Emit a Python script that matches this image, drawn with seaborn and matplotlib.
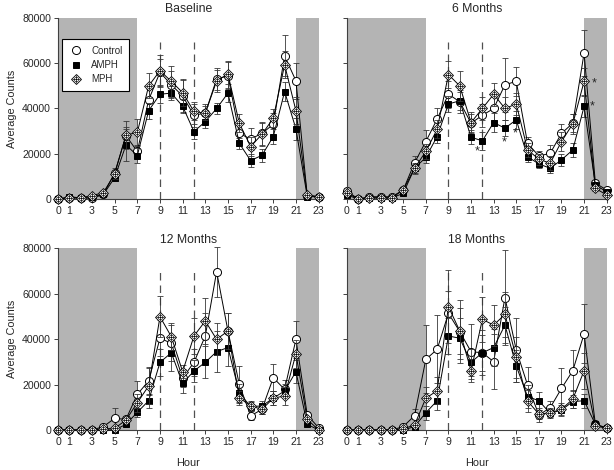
import numpy as np
import pandas as pd
import matplotlib
matplotlib.use("Agg")
import matplotlib.pyplot as plt
import seaborn as sns
from matplotlib.lines import Line2D

# ---------------- data ----------------
hours = list(range(24))
panel_titles = ["Baseline", "6 Months", "12 Months", "18 Months"]
groups = ["Control", "AMPH", "MPH"]
xtick_values = [0, 1, 3, 5, 7, 9, 11, 13, 15, 17, 19, 21, 23]
ytick_values = [0, 20000, 40000, 60000, 80000]
dark_periods = [(0, 7), (21, 23)]
dashed_hours = [9, 12]

base_ctrl = [0, 500, 500, 300, 2000, 11500, 28000, 21000, 43800, 56000, 50500, 45500,
             37000, 38000, 53000, 54500, 29000, 26500, 29000, 33000, 63300, 52200, 1500, 1000]
base_ctrl_err = [200, 300, 300, 300, 500, 2000, 4000, 3000, 5000, 6000, 6000, 7000,
                 5000, 4000, 5000, 6000, 4000, 5000, 5000, 5000, 9000, 8000, 500, 300]
base_amph = [0, 1000, 500, 1000, 2000, 9400, 23900, 19200, 39000, 46300, 46800, 41000,
             29800, 34200, 40000, 46800, 24600, 17000, 19300, 27600, 47500, 31000, 1000, 1000]
base_amph_err = [200, 300, 300, 300, 500, 1500, 7000, 3500, 3500, 4000, 3000, 3000,
                 3500, 3000, 2500, 4000, 2500, 3000, 3000, 3500, 4000, 5000, 300, 300]
base_mph = [0, 500, 500, 1500, 2800, 11000, 28300, 29400, 50000, 56700, 52000, 47000,
            38700, 37900, 52200, 55200, 33500, 23200, 28600, 35700, 59300, 39000, 1800, 1000]
base_mph_err = [200, 300, 300, 500, 800, 2000, 6000, 6000, 5500, 7000, 7000, 6000,
                4000, 3000, 5000, 6000, 4000, 4000, 5000, 4000, 6000, 6000, 500, 300]

m6_ctrl = [3700, 0, 1000, 1000, 1000, 4000, 16000, 25400, 35300, 46300, 43000, 33500,
           37000, 40000, 50500, 52000, 24600, 19000, 20200, 29000, 33500, 64500, 7000, 4000]
m6_ctrl_err = [1000, 300, 300, 300, 300, 1000, 3000, 5000, 5000, 6000, 5000, 4000,
               5000, 5000, 12000, 6500, 3000, 2000, 3500, 4000, 4000, 10000, 1500, 1000]
m6_amph = [1800, 0, 500, 500, 500, 2500, 13600, 18400, 27600, 42000, 43400, 27300,
           25700, 33800, 31300, 35000, 18700, 15500, 13600, 17300, 21700, 40900, 6200, 3200]
m6_amph_err = [500, 200, 200, 200, 200, 800, 2000, 2500, 3000, 3500, 4000, 3000,
               4000, 4000, 3500, 4000, 2500, 2000, 2000, 2500, 3000, 4500, 1000, 800]
m6_mph = [2800, 0, 500, 500, 500, 4000, 13600, 21000, 30800, 55000, 50000, 33800,
          40000, 46300, 40000, 42000, 21700, 17600, 15800, 25400, 33200, 52000, 4700, 1800]
m6_mph_err = [800, 200, 200, 200, 200, 1000, 2500, 3500, 4000, 6000, 6500, 4500,
              5000, 5000, 5000, 5000, 3000, 2500, 3000, 4000, 4500, 6000, 1000, 500]

m12_ctrl = [0, 0, 0, 0, 1500, 5100, 4700, 15700, 21600, 40400, 38200, 22800,
            29800, 41400, 69700, 43600, 20100, 6200, 9100, 23000, 17900, 39900, 6600, 1000]
m12_ctrl_err = [200, 200, 200, 200, 800, 4700, 1500, 6000, 6000, 8000, 8000, 4000,
                6000, 10000, 11000, 8000, 8000, 2000, 2000, 6000, 4000, 8000, 1500, 500]
m12_amph = [0, 0, 0, 0, 0, 0, 2500, 7800, 12900, 29800, 34000, 20500,
            26000, 29800, 34500, 36300, 16400, 10300, 10600, 14000, 17200, 25700, 2500, 0]
m12_amph_err = [100, 100, 100, 100, 100, 200, 800, 2000, 3000, 6000, 8000, 4000,
                5000, 7000, 9000, 8000, 4000, 2000, 2000, 3000, 3000, 5000, 800, 200]
m12_mph = [0, 0, 0, 0, 500, 700, 4400, 12000, 19400, 49900, 41100, 25700,
           41400, 48000, 39900, 43600, 14200, 10600, 9100, 14000, 15000, 33500, 4700, 0]
m12_mph_err = [100, 100, 100, 100, 300, 400, 1500, 4000, 8000, 9000, 6000, 3000,
               8000, 10000, 7000, 8000, 3000, 2000, 2000, 3000, 4000, 6000, 1000, 200]

m18_ctrl = [0, 0, 0, 0, 0, 1500, 6300, 31100, 35500, 51400, 43300, 34500,
            34000, 30100, 58300, 35200, 19800, 6600, 9800, 18300, 26100, 42300, 2500, 1000]
m18_ctrl_err = [100, 100, 100, 100, 100, 800, 3000, 15000, 15000, 10000, 14000, 12000,
                10000, 12000, 21000, 14000, 8000, 3000, 3000, 9000, 9000, 13000, 1000, 500]
m18_amph = [0, 0, 0, 0, 0, 0, 1500, 7600, 12900, 41400, 40400, 29800,
            34000, 36300, 46200, 28200, 14700, 12900, 7300, 8800, 12500, 12900, 2500, 700]
m18_amph_err = [100, 100, 100, 100, 100, 200, 800, 3000, 4000, 8000, 9000, 6000,
                8000, 8000, 8000, 7000, 5000, 4000, 2000, 2000, 3000, 3000, 1000, 300]
m18_mph = [0, 0, 0, 0, 0, 500, 2200, 14000, 17300, 54300, 43600, 26100,
           48700, 46200, 50900, 32000, 12800, 7000, 7600, 9100, 13600, 26100, 1900, 700]
m18_mph_err = [100, 100, 100, 100, 100, 300, 1000, 5000, 6000, 16000, 10000, 5000,
               10000, 9000, 10000, 9000, 5000, 2000, 2000, 3000, 4000, 8000, 800, 300]

# significance asterisks in the 6 Months panel: (hour, value)
m6_star_hours = [11.55, 13.95, 14.9, 21.9, 21.75]
m6_star_values = [21000, 24800, 28800, 51000, 41000]

means = {
    "Baseline": [base_ctrl, base_amph, base_mph],
    "6 Months": [m6_ctrl, m6_amph, m6_mph],
    "12 Months": [m12_ctrl, m12_amph, m12_mph],
    "18 Months": [m18_ctrl, m18_amph, m18_mph],
}
errors = {
    "Baseline": [base_ctrl_err, base_amph_err, base_mph_err],
    "6 Months": [m6_ctrl_err, m6_amph_err, m6_mph_err],
    "12 Months": [m12_ctrl_err, m12_amph_err, m12_mph_err],
    "18 Months": [m18_ctrl_err, m18_amph_err, m18_mph_err],
}

rows = []
for p in panel_titles:
    for gi, g in enumerate(groups):
        for h in hours:
            rows.append({"panel": p, "group": g, "hour": h,
                         "mean": means[p][gi][h], "sem": errors[p][gi][h]})
df = pd.DataFrame(rows)

# ---------------- style ----------------
sns.set_style("ticks")
plt.rcParams["font.family"] = ["Liberation Sans", "DejaVu Sans"]
plt.rcParams["font.size"] = 7.5

fig = plt.figure(figsize=(6.14, 4.70), dpi=100)
W, H = 614, 470
# axes boxes in pixels: (x0, x1, ytop, ybottom)
boxes = [(58, 318.6, 18, 199), (346.7, 606.7, 18, 199),
         (58, 318.6, 248.3, 430), (346.7, 606.7, 248.3, 430)]

shade = "#b4b4b4"
spine_col = "#404040"
styles = {
    "Control": dict(marker="o", markersize=5.8, markerfacecolor="white", markeredgewidth=0.7),
    "AMPH": dict(marker="s", markersize=4.9, markerfacecolor="black", markeredgewidth=0.7),
    "MPH": dict(marker="D", markersize=4.6, markerfacecolor="white", markeredgewidth=0.6),
}
mph_circle = dict(marker="o", markersize=3.2, markerfacecolor="none",
                  markeredgecolor="black", markeredgewidth=0.4)
mph_plus = dict(marker="+", markersize=6.2, markeredgecolor="black", markeredgewidth=0.5)

axes = []
for i, p in enumerate(panel_titles):
    x0, x1, yt, yb = boxes[i]
    ax = fig.add_axes([x0 / W, 1 - yb / H, (x1 - x0) / W, (yb - yt) / H])
    axes.append(ax)
    for a, b in dark_periods:
        ax.axvspan(a, b, color=shade, lw=0, zorder=0)
    ax.vlines(dashed_hours, 0, 69500, colors="#505050", linestyles=(0, (6, 4)),
              lw=0.9, zorder=1)
    for zi, g in enumerate(groups):
        d = df[(df.panel == p) & (df.group == g)]
        ax.errorbar(d["hour"], d["mean"], yerr=d["sem"], fmt="none", ecolor="#383838",
                    elinewidth=0.6, capsize=2.0, capthick=0.6, zorder=2 + zi, clip_on=False)
        sns.lineplot(data=d, x="hour", y="mean", ax=ax, color="black", lw=0.7,
                     markeredgecolor="black", errorbar=None,
                     legend=False, zorder=2 + zi, clip_on=False, **styles[g])
        if g == "MPH":
            ax.plot(d["hour"], d["mean"], linestyle="none", zorder=2 + zi, clip_on=False,
                    **mph_circle)
            ax.plot(d["hour"], d["mean"], linestyle="none", zorder=2 + zi, clip_on=False,
                    **mph_plus)
    ax.set_xlim(0, 23)
    ax.set_ylim(0, 80000)
    ax.set_xticks(xtick_values)
    ax.set_yticks(ytick_values)
    ax.set_title(p, fontsize=8.8, pad=4)
    for s in ["top", "right"]:
        ax.spines[s].set_visible(False)
    for s in ["left", "bottom"]:
        ax.spines[s].set_color(spine_col)
        ax.spines[s].set_linewidth(0.8)
    ax.tick_params(length=3, width=0.7, color=spine_col, labelsize=7.6, pad=2)
    if i % 2 == 0:
        ax.set_ylabel("Average Counts", fontsize=7.8, labelpad=4)
    else:
        ax.set_ylabel("")
        ax.set_yticklabels([])
    if i >= 2:
        ax.set_xlabel("Hour", fontsize=7.8, labelpad=8)
    else:
        ax.set_xlabel("")

# asterisks
for hx, vy in zip(m6_star_hours, m6_star_values):
    axes[1].text(hx, vy, "*", ha="center", va="center", fontsize=9, zorder=10)

# legend
h_ctrl = Line2D([], [], linestyle="none", color="black", **styles["Control"])
h_amph = Line2D([], [], linestyle="none", color="black", **styles["AMPH"])
h_mph1 = Line2D([], [], linestyle="none", color="black", **styles["MPH"])
h_mph2 = Line2D([], [], linestyle="none", **mph_circle)
h_mph3 = Line2D([], [], linestyle="none", **mph_plus)
leg = axes[0].legend([h_ctrl, h_amph, (h_mph1, h_mph2, h_mph3)], groups,
                     loc="upper left", bbox_to_anchor=(0.015, 0.885), borderaxespad=0,
                     fontsize=7.0, frameon=True, fancybox=False, handlelength=1.6,
                     handletextpad=0.7, labelspacing=0.45, borderpad=0.7)
leg.get_frame().set_edgecolor("black")
leg.get_frame().set_linewidth(0.8)
leg.get_frame().set_facecolor("white")
leg.get_frame().set_alpha(1)
leg.set_zorder(20)

fig.savefig("out.png", dpi=100)
